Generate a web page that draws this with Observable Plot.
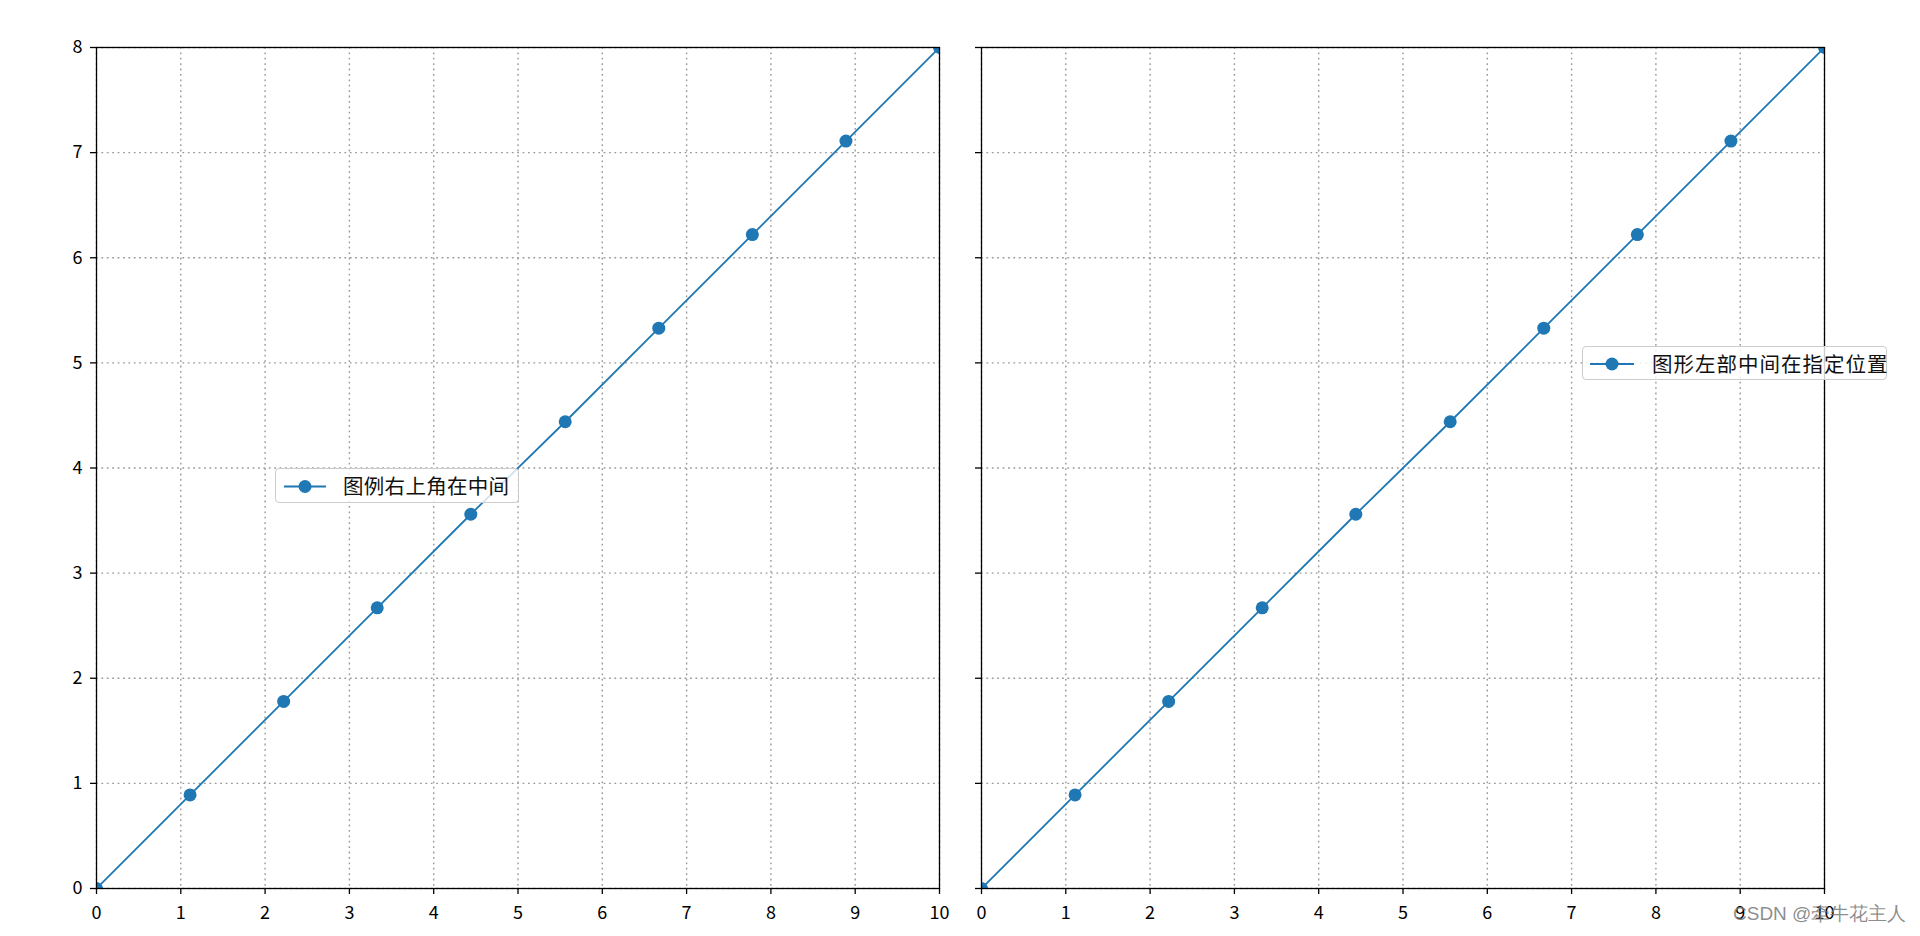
<!DOCTYPE html>
<html>
<head>
<meta charset="utf-8">
<script src="https://cdn.jsdelivr.net/npm/d3@7"></script>
<script src="https://cdn.jsdelivr.net/npm/@observablehq/plot@0.6"></script>
<style>
  html, body { margin: 0; padding: 0; background: white; }
  #wrap { position: relative; width: 1920px; height: 936px; background: white; overflow: hidden; }
  .panel { position: absolute; top: 0; }
  .legend { position: absolute; box-sizing: border-box; border: 1px solid #cccccc; border-radius: 4px;
            background: rgba(255,255,255,0.8); font-family: "Noto Sans CJK SC", sans-serif; color: #111; }
  .legend svg { position: absolute; top: 0; left: 0; }
  .legend span { position: absolute; white-space: nowrap; line-height: 1; }
  #wm { position: absolute; left: 1733px; top: 904px; font-family: "Liberation Sans", Arial, sans-serif;
        font-size: 19px; color: rgba(120,120,120,0.85); white-space: nowrap; line-height: 1; }
</style>
</head>
<body>
<div id="wrap"></div>
<script>
// ---- data ----
const xValues = [0, 1.11, 2.22, 3.33, 4.44, 5.56, 6.67, 7.78, 8.89, 10];
const yValues = [0, 0.89, 1.78, 2.67, 3.56, 4.44, 5.33, 6.22, 7.11, 8];
const xTicks = [0, 1, 2, 3, 4, 5, 6, 7, 8, 9, 10];
const yTicks = [0, 1, 2, 3, 4, 5, 6, 7, 8];
const legendLabels = ["图例右上角在中间", "图形左部中间在指定位置"];
const watermark = "CSDN @牵牛花主人";

const data = xValues.map((x, i) => ({x, y: yValues[i]}));
const blue = "#1f77b4";

function panel(showYLabels) {
  return Plot.plot({
    width: 960,
    height: 936,
    marginLeft: showYLabels ? 96 : 21,
    marginRight: showYLabels ? 21 : 96,
    marginTop: 47,
    marginBottom: 48,
    x: {domain: [0, 10]},
    y: {domain: [0, 8]},
    style: {fontFamily: "'Noto Sans CJK SC', sans-serif", fontSize: "18px", color: "black", background: "white", overflow: "visible"},
    marks: [
      Plot.gridX(xTicks, {stroke: "#9a9a9a", strokeOpacity: 1, strokeWidth: 1.4, strokeDasharray: "1.8,3.6"}),
      Plot.gridY(yTicks, {stroke: "#9a9a9a", strokeOpacity: 1, strokeWidth: 1.4, strokeDasharray: "1.8,3.6"}),
      Plot.line(data, {x: "x", y: "y", stroke: blue, strokeWidth: 1.8, clip: true}),
      Plot.dot(data, {x: "x", y: "y", r: 6.5, fill: blue, stroke: "none", clip: true}),
      Plot.axisX(xTicks, {tickSize: 6, tickPadding: 12, color: "black", strokeWidth: 1.3, label: null, tickFormat: d => String(d)}),
      Plot.axisY(yTicks, {tickSize: 6, tickPadding: 8, color: "black", strokeWidth: 1.3, label: null,
                          tickFormat: showYLabels ? (d => String(d)) : (() => "")}),
      Plot.frame({stroke: "black", strokeWidth: 1.3})
    ]
  });
}

const wrap = document.getElementById("wrap");
const p1 = panel(true);
p1.classList.add("panel"); p1.style.left = "0px";
wrap.appendChild(p1);
const p2 = panel(false);
p2.classList.add("panel"); p2.style.left = "960px";
wrap.appendChild(p2);

function legend(left, top, w, h, lineX0, lineX1, textX, label, fontSize, spacing) {
  const d = document.createElement("div");
  d.className = "legend";
  Object.assign(d.style, {left: left + "px", top: top + "px", width: w + "px", height: h + "px"});
  const cy = h / 2;
  d.innerHTML = `<svg width="${w}" height="${h}">
      <line x1="${lineX0}" x2="${lineX1}" y1="${cy}" y2="${cy}" stroke="${blue}" stroke-width="1.8"/>
      <circle cx="${(lineX0 + lineX1) / 2}" cy="${cy}" r="6.5" fill="${blue}"/>
    </svg>`;
  const s = document.createElement("span");
  s.textContent = label;
  Object.assign(s.style, {left: textX + "px", top: (cy - fontSize * 0.55) + "px", fontSize: fontSize + "px", letterSpacing: spacing + "px"});
  d.appendChild(s);
  wrap.appendChild(d);
}
legend(275, 468, 244, 35, 8, 50, 67, legendLabels[0], 20.5, 0.3);
legend(1582, 346, 305, 34, 7, 51, 69, legendLabels[1], 20.5, 1.0);

const wm = document.createElement("div");
wm.id = "wm";
wm.textContent = watermark;
wrap.appendChild(wm);
</script>
</body>
</html>
